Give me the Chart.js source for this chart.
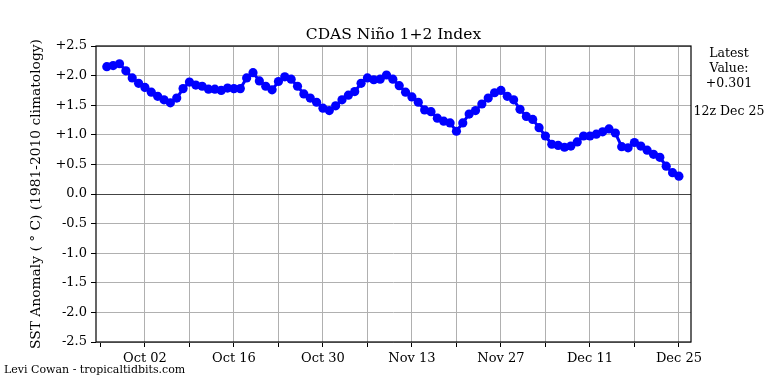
<!DOCTYPE html>
<html>
<head>
<meta charset="utf-8">
<script src="https://cdn.jsdelivr.net/npm/chart.js@4"></script>
<style>
  html, body { margin: 0; padding: 0; background: #fff; }
  canvas { display: block; }
</style>
</head>
<body>
<canvas id="ninoChart" width="768" height="384"></canvas>
<script>
// daily values, Sep 26 .. Dec 25
const anomaly = [
	2.15, 2.17, 2.20, 2.08, 1.96, 1.87, 1.80, 1.72, 1.65, 1.59,
	1.54, 1.62, 1.78, 1.89, 1.84, 1.82, 1.77, 1.77, 1.75, 1.79,
	1.78, 1.78, 1.96, 2.05, 1.91, 1.82, 1.76, 1.90, 1.98, 1.94,
	1.82, 1.69, 1.62, 1.55, 1.45, 1.41, 1.49, 1.59, 1.67, 1.73,
	1.87, 1.96, 1.93, 1.94, 2.01, 1.94, 1.83, 1.72, 1.64, 1.55,
	1.42, 1.39, 1.28, 1.23, 1.20, 1.06, 1.20, 1.35, 1.41, 1.52,
	1.62, 1.71, 1.75, 1.65, 1.59, 1.43, 1.31, 1.26, 1.12, 0.98,
	0.84, 0.82, 0.79, 0.81, 0.88, 0.98, 0.98, 1.01, 1.05, 1.10,
	1.03, 0.80, 0.78, 0.87, 0.81, 0.74, 0.67, 0.62, 0.47, 0.36,
	0.301,
]
// x = days since Sep 25; one tick per week
const weekTicks = [0, 7, 14, 21, 28, 35, 42, 49, 56, 63, 70, 77, 84, 91]
const tickLabels = ['', 'Oct 02', '', 'Oct 16', '', 'Oct 30', '', 'Nov 13', '', 'Nov 27', '', 'Dec 11', '', 'Dec 25']
const yTicks = [-2.5, -2.0, -1.5, -1.0, -0.5, 0.0, 0.5, 1.0, 1.5, 2.0, 2.5]

const titleText = 'CDAS Niño 1+2 Index'
const latestLines = ['Latest', 'Value:', '+0.301']
const latestTime = '12z Dec 25'
const credit = 'Levi Cowan - tropicaltidbits.com'

const serif = "'DejaVu Serif', 'Liberation Serif', serif"

const fmtY = (v) => (v > 0 ? '+' + v.toFixed(1) : v.toFixed(1))

const frameAndText = {
	id: 'frameAndText',
	afterDraw(chart) {
		const { ctx, chartArea } = chart
		ctx.save()
		ctx.strokeStyle = '#000'
		ctx.lineWidth = 1.2
		ctx.strokeRect(chartArea.left, chartArea.top, chartArea.right - chartArea.left, chartArea.bottom - chartArea.top)

		ctx.fillStyle = '#000'
		ctx.textAlign = 'center'
		ctx.textBaseline = 'alphabetic'
		ctx.font = '15.5px ' + serif
		ctx.fillText(titleText, (chartArea.left + chartArea.right) / 2, 39)

		ctx.font = '12.5px ' + serif
		const cx = 729
		latestLines.forEach((t, i) => ctx.fillText(t, cx, 57 + i * 15))
		ctx.fillText(latestTime, cx, 115)

		ctx.textAlign = 'left'
		ctx.font = '11px ' + serif
		ctx.fillText(credit, 4, 373)
		ctx.restore()
	},
}

const ctx = document.getElementById('ninoChart').getContext('2d')
const ninoChart = new Chart(ctx, {
	type: 'line',
	data: {
		datasets: [
			{
				data: anomaly.map((v, i) => ({ x: i + 1, y: v })),
				borderColor: '#0000ff',
				backgroundColor: '#0000ff',
				borderWidth: 3,
				pointRadius: 4.6,
				pointBorderWidth: 0,
				tension: 0,
			},
		],
	},
	options: {
		responsive: false,
		animation: false,
		devicePixelRatio: 1,
		layout: {
			padding: { top: 46, right: 77, bottom: 0, left: 0 },
		},
		plugins: {
			legend: { display: false },
			tooltip: { enabled: false },
		},
		scales: {
			x: {
				type: 'linear',
				min: -0.7,
				max: 92.9,
				afterBuildTicks: (scale) => {
					scale.ticks = weekTicks.map((v) => ({ value: v }))
				},
				afterFit: (scale) => {
					scale.height = 42
				},
				ticks: {
					autoSkip: false,
					maxRotation: 0,
					padding: 4,
					color: '#000',
					font: { family: serif, size: 13 },
					callback: (value, index) => tickLabels[index],
				},
				grid: {
					color: (c) => (c.tick && c.tick.value === 0 ? 'rgba(0,0,0,0)' : '#b0b0b0'),
					lineWidth: 1,
					tickColor: '#000',
					tickLength: 5,
				},
				border: { display: false },
			},
			y: {
				min: -2.5,
				max: 2.5,
				afterBuildTicks: (scale) => {
					scale.ticks = yTicks.map((v) => ({ value: v }))
				},
				afterFit: (scale) => {
					scale.width = 96
				},
				ticks: {
					padding: 4,
					color: '#000',
					font: { family: serif, size: 13 },
					callback: (value) => fmtY(value),
				},
				grid: {
					color: (c) => (c.tick && c.tick.value === 0 ? '#444' : '#b0b0b0'),
					lineWidth: 1,
					tickColor: '#000',
					tickLength: 5,
				},
				border: { display: false },
				title: {
					display: true,
					text: 'SST Anomaly ( ° C) (1981-2010 climatology)',
					color: '#000',
					font: { family: serif, size: 13.8 },
					padding: { top: 28.5, bottom: 0 },
				},
			},
		},
	},
	plugins: [frameAndText],
})
</script>
</body>
</html>
